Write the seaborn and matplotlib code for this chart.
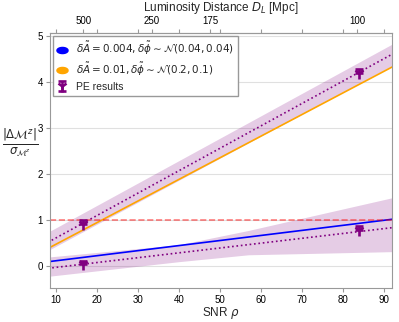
import numpy as np
import pandas as pd
import matplotlib
matplotlib.use('Agg')
import matplotlib.pyplot as plt
import seaborn as sns
from matplotlib.lines import Line2D
from matplotlib.path import Path

# values
snr_line = [8.0, 93.0]
blue_line = [0.088, 1.023]
orange_line = [0.376, 4.37]

fit_snr = [8.0, 93.0]
fit_high = [0.51, 4.65]
fit_low = [-0.055, 0.84]

band_high_snr = [8.0, 93.0]
band_high_lo = [0.33, 4.40]
band_high_hi = [0.73, 4.87]

band_low_snr = [8.0, 40.0, 57.0, 93.0]
band_low_lo = [-0.23, 0.09, 0.24, 0.31]
band_low_hi = [0.19, 0.46, 0.77, 1.50]

pe_snr = [16.7, 84.0, 16.7, 84.0]
pe_val = [0.92, 4.20, 0.03, 0.79]

dist_ticks = [500, 250, 175, 100]
K = 8350.0

sns.set_style('whitegrid', {'axes.edgecolor': '0.6', 'grid.color': '0.88',
                            'xtick.bottom': True, 'ytick.left': True, 'xtick.top': True})
plt.rcParams['font.family'] = ['Liberation Sans', 'DejaVu Sans']
plt.rcParams['xtick.major.size'] = 3
plt.rcParams['ytick.major.size'] = 3
plt.rcParams['xtick.color'] = '0.6'
plt.rcParams['ytick.color'] = '0.6'
plt.rcParams['xtick.labelcolor'] = 'black'
plt.rcParams['ytick.labelcolor'] = 'black'

fig = plt.figure(figsize=(3.99, 3.22), dpi=100)
ax = fig.add_axes([0.125, 0.106, 0.857, 0.792])

df_lines = pd.DataFrame({'snr': snr_line * 2,
                         'val': blue_line + orange_line,
                         'set': ['a', 'a', 'b', 'b']})
sns.lineplot(data=df_lines, x='snr', y='val', hue='set',
             palette={'a': 'blue', 'b': 'orange'}, lw=1.2, legend=False, ax=ax)

ax.fill_between(band_high_snr, band_high_lo, band_high_hi, color='purple', alpha=0.2, lw=0)
ax.fill_between(band_low_snr, band_low_lo, band_low_hi, color='purple', alpha=0.2, lw=0)
ax.plot(fit_snr, fit_high, color='purple', ls=':', lw=1.2)
ax.plot(fit_snr, fit_low, color='purple', ls=':', lw=1.2)

ax.axhline(1, color='red', ls='--', lw=1.2, alpha=0.5)

pe_kw = dict(fmt='1', color='purple', ms=8, mew=1.9, capsize=3,
             elinewidth=1.8, capthick=1.8)
pe = ax.errorbar(pe_snr, pe_val, yerr=[[0] * 4, [0.08] * 4], zorder=5, **pe_kw)

ax.set_xlim(8.5, 92)
ax.set_ylim(-0.48, 5.07)
ax.set_xticks(range(10, 100, 10))
ax.set_yticks(range(0, 6))
ax.grid(axis='x', visible=False)
ax.tick_params(labelsize=7, pad=2)
ax.set_xlabel(r'SNR $\rho$', fontsize=8.5, labelpad=0)
ax.set_ylabel(r'$\frac{|\Delta\mathcal{M}^z|}{\sigma_{\mathcal{M}^z}}$', fontsize=12,
              rotation=0, va='center', ha='center')
ax.yaxis.set_label_coords(-0.088, 0.57)

top = ax.secondary_xaxis('top', functions=(lambda s: K / s, lambda d: K / d))
top.set_xticks(dist_ticks)
top.set_xticklabels([str(d) for d in dist_ticks])
top.tick_params(labelsize=7, pad=2, color='0.6')
top.set_xlabel(r'Luminosity Distance $D_L$ [Mpc]', fontsize=8.5, labelpad=3.5)

th = np.linspace(0, 2 * np.pi, 60)
oval = Path(np.column_stack([np.cos(th), 0.55 * np.sin(th)]))
handles = [
    Line2D([], [], marker=oval, color='blue', ls='none', ms=8),
    Line2D([], [], marker=oval, color='orange', ls='none', ms=8),
    pe,
]
labels = [r'$\delta\tilde{A}=0.004, \delta\tilde{\phi}\sim\mathcal{N}(0.04, 0.04)$',
          r'$\delta\tilde{A}=0.01, \delta\tilde{\phi}\sim\mathcal{N}(0.2, 0.1)$',
          'PE results']
ax.legend(handles, labels, loc='upper left', fontsize=7.5, fancybox=False,
          edgecolor='0.6', handlelength=1.0, handletextpad=0.8, labelspacing=0.35,
          borderaxespad=0.3, framealpha=1)

fig.savefig('out.png', dpi=100)
